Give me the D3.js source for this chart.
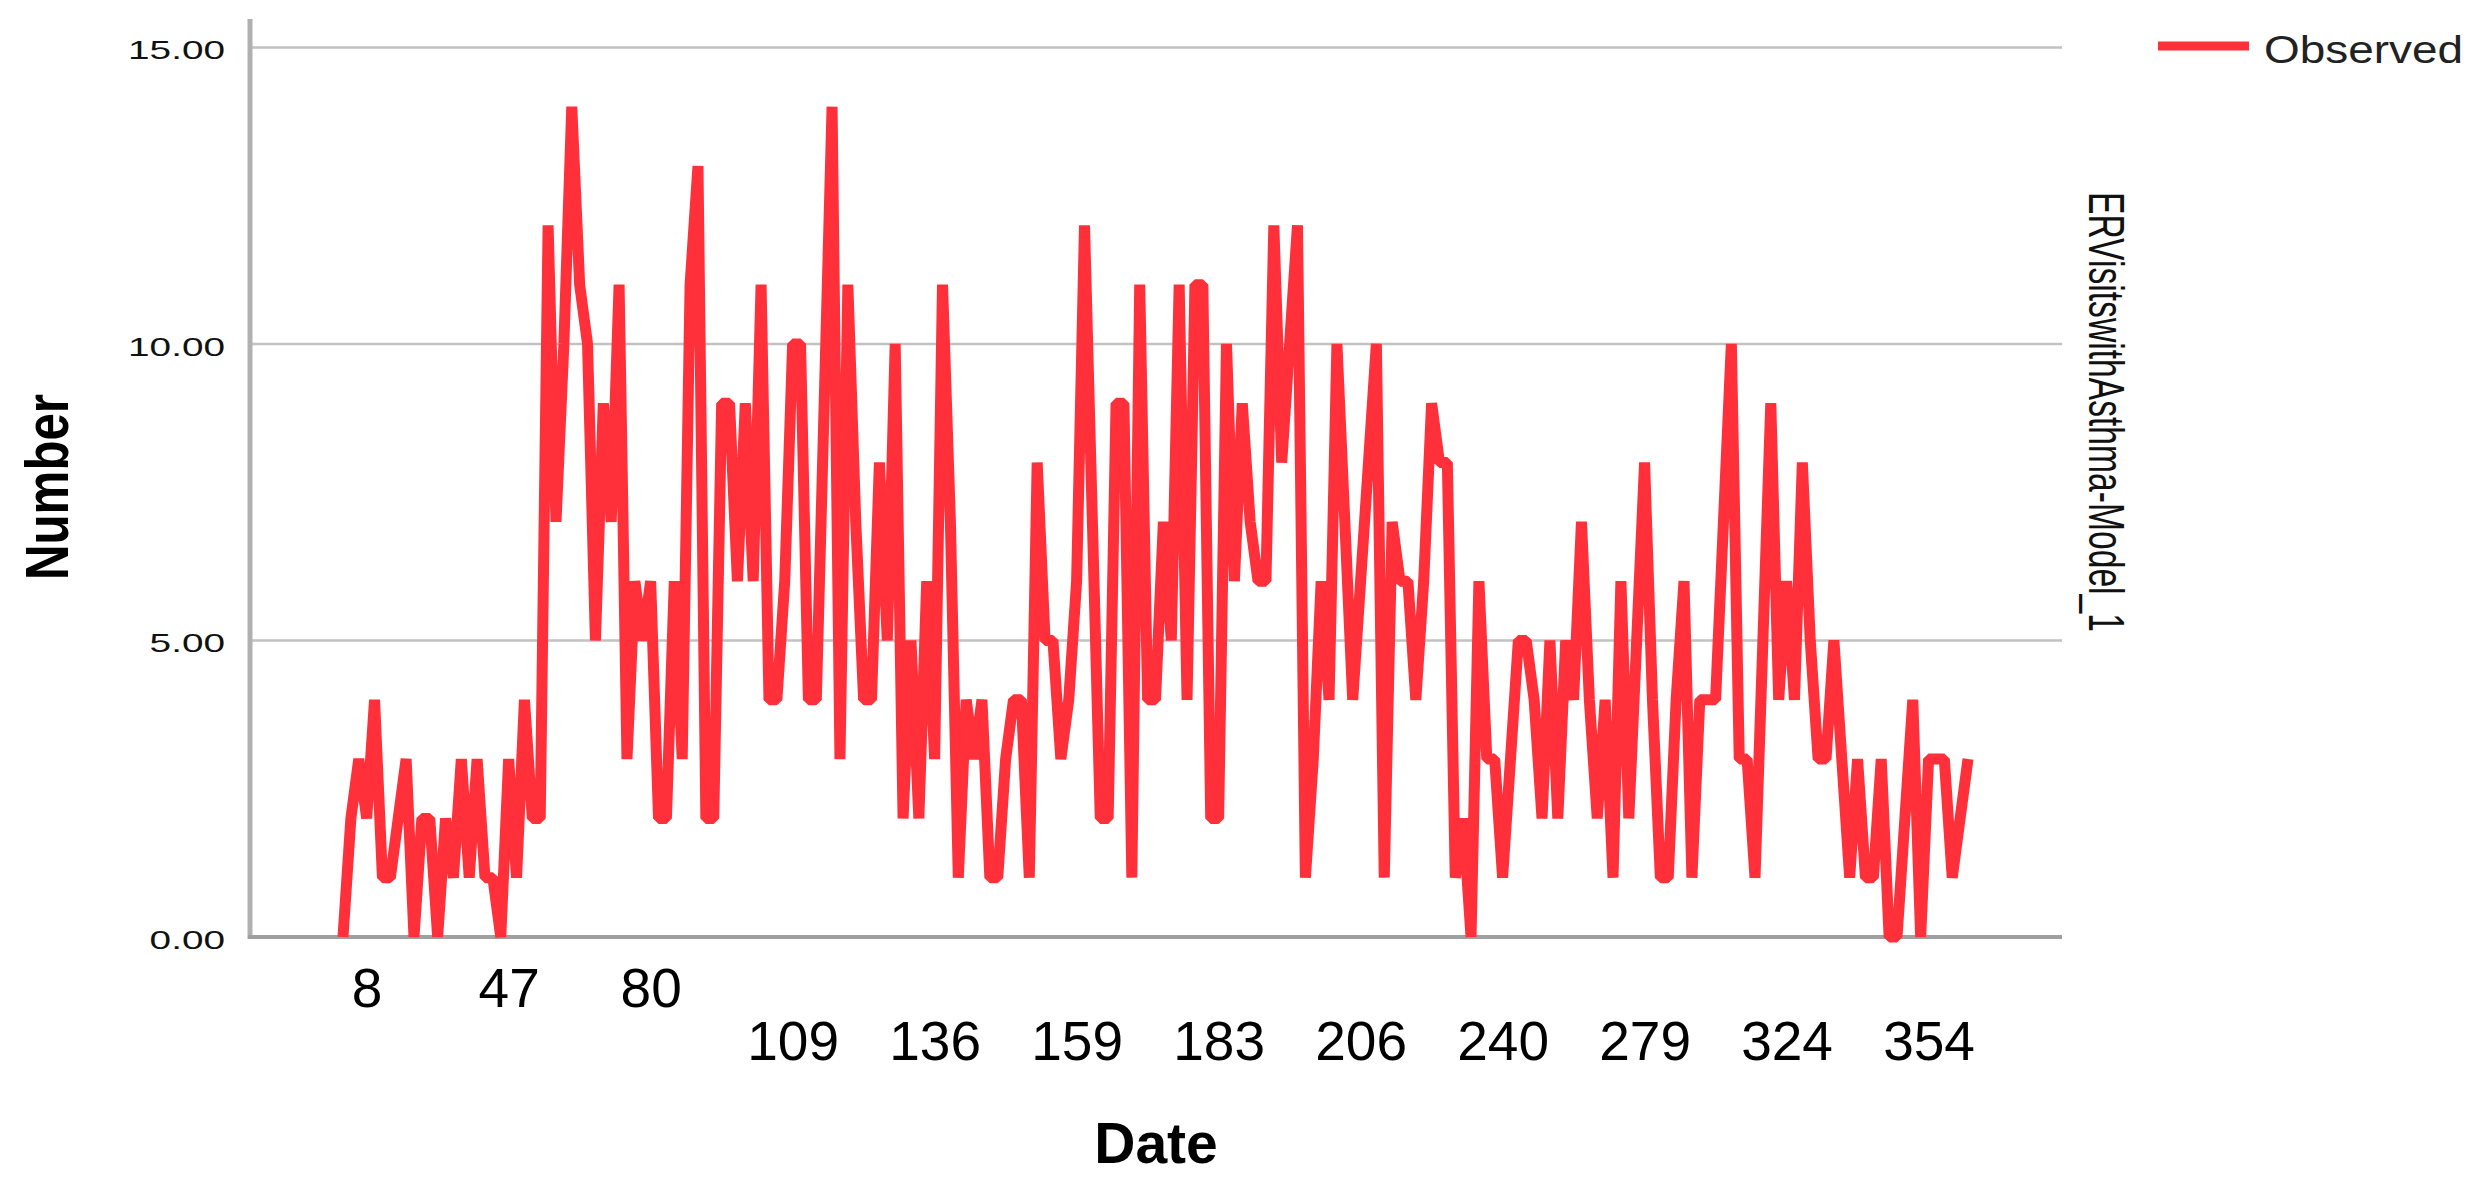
<!DOCTYPE html>
<html>
<head>
<meta charset="utf-8">
<script src="https://cdn.jsdelivr.net/npm/d3@7"></script>
<style>
  html, body { margin: 0; padding: 0; background: #ffffff; }
  svg { display: block; }
  text { font-family: "Liberation Sans", Arial, sans-serif; }
</style>
</head>
<body>
<svg id="chart" width="2477" height="1182"></svg>
<script>
// ---- data ----
const observed = [
  0,2,3,2,4,1,1,2,3,0,
  2,2,0,2,1,3,1,3,1,1,
  0,3,1,4,2,2,12,7,10,14,
  11,10,5,9,7,11,3,6,5,6,
  2,2,6,3,11,13,2,2,9,9,
  6,9,6,11,4,4,6,10,10,4,
  4,9,14,3,11,7,4,4,8,5,
  10,2,5,2,6,3,11,7,1,4,
  3,4,1,1,3,4,4,1,8,5,
  5,3,4,6,12,7,2,2,9,9,
  1,11,4,4,7,5,11,4,11,11,
  2,2,10,6,9,7,6,6,12,8,
  10,12,1,3,6,4,10,7,4,6,
  8,10,1,7,6,6,4,6,9,8,
  8,1,2,0,6,3,3,1,3,5,
  5,4,2,5,2,5,4,7,4,2,
  4,1,6,2,5,8,4,1,1,4,
  6,1,4,4,4,7,10,3,3,1,
  5,9,4,6,4,8,5,3,3,5,
  3,1,3,1,1,3,0,0,2,4,
  0,3,3,3,1,2,3
];
const cases = observed.map((_, i) => i + 1);
const tickCases = [4, 22, 40, 58, 76, 94, 112, 130, 148, 166, 184, 202];
const tickLabels = ["8", "47", "80", "109", "136", "159", "183", "206", "240", "279", "324", "354"];
const yTicks = [0, 5, 10, 15];
const seriesName = "Observed";
const modelName = "ERVisitswithAsthma-Model_1";
const xTitle = "Date";
const yTitle = "Number";

// ---- layout ----
const svg = d3.select("#chart");
const plotLeft = 250, plotRight = 2062;
const lineColor = "#ff3039";

const x = d3.scalePoint().domain(cases).range([343, 1968]);
const y = d3.scaleLinear().domain([0, 15]).range([937, 47.4]);

// gridlines
svg.append("g").selectAll("line")
  .data(yTicks.filter(d => d !== 0))
  .join("line")
  .attr("x1", plotLeft).attr("x2", plotRight)
  .attr("y1", d => y(d)).attr("y2", d => y(d))
  .attr("stroke", "#c2c2c2").attr("stroke-width", 2.5);

// y axis labels
const yAxis = svg.append("g")
  .attr("transform", `translate(${plotLeft},3)`)
  .call(d3.axisLeft(y).tickValues(yTicks).tickFormat(d3.format(".2f")).tickSize(0).tickPadding(25));
yAxis.select(".domain").remove();
yAxis.selectAll("text")
  .attr("font-size", 26)
  .attr("fill", "#111")
  .style("font-family", "'Liberation Sans', Arial, sans-serif")
  .each(function() {
    const len = this.getComputedTextLength();
    d3.select(this).attr("textLength", len * 1.49).attr("lengthAdjust", "spacingAndGlyphs");
  });

// left axis line
svg.append("line")
  .attr("x1", plotLeft).attr("x2", plotLeft)
  .attr("y1", 19).attr("y2", 939)
  .attr("stroke", "#b0b0b0").attr("stroke-width", 5);

// bottom axis line
svg.append("line")
  .attr("x1", plotLeft - 2).attr("x2", plotRight)
  .attr("y1", y(0)).attr("y2", y(0))
  .attr("stroke", "#a0a0a0").attr("stroke-width", 4);

// x axis labels
const xAxis = svg.append("g")
  .attr("transform", `translate(0,${y(0)})`)
  .call(d3.axisBottom(x).tickValues(tickCases).tickFormat((d, i) => tickLabels[i]).tickSize(0));
xAxis.select(".domain").remove();
xAxis.selectAll("text")
  .attr("font-size", 55)
  .attr("fill", "#000")
  .attr("dy", null)
  .attr("y", (d, i) => (i < 3 ? 1007 : 1060) - y(0))
  .style("font-family", "'Liberation Sans', Arial, sans-serif");

// series line
const line = d3.line()
  .x((d, i) => x(cases[i]))
  .y(d => y(d));
svg.append("path")
  .datum(observed)
  .attr("d", line)
  .attr("fill", "none")
  .attr("stroke", lineColor)
  .attr("stroke-width", 11)
  .attr("stroke-linejoin", "bevel");

// axis titles
svg.append("text")
  .attr("x", 1156).attr("y", 1163)
  .attr("text-anchor", "middle")
  .attr("font-size", 57).attr("font-weight", "bold")
  .attr("fill", "#000")
  .text(xTitle);

svg.append("text")
  .attr("transform", "translate(68,487) rotate(-90)")
  .attr("text-anchor", "middle")
  .attr("font-size", 62).attr("font-weight", "bold")
  .attr("fill", "#000")
  .attr("textLength", 186).attr("lengthAdjust", "spacingAndGlyphs")
  .text(yTitle);

// right side model label
svg.append("text")
  .attr("transform", "translate(2089,192) rotate(90)")
  .attr("text-anchor", "start")
  .attr("font-size", 50)
  .attr("fill", "#111")
  .attr("textLength", 440).attr("lengthAdjust", "spacingAndGlyphs")
  .text(modelName);

// legend
svg.append("line")
  .attr("x1", 2158).attr("x2", 2249)
  .attr("y1", 46).attr("y2", 46)
  .attr("stroke", lineColor).attr("stroke-width", 9);
svg.append("text")
  .attr("x", 2264).attr("y", 63)
  .attr("font-size", 38)
  .attr("fill", "#222")
  .attr("textLength", 199).attr("lengthAdjust", "spacingAndGlyphs")
  .text(seriesName);
</script>
</body>
</html>
